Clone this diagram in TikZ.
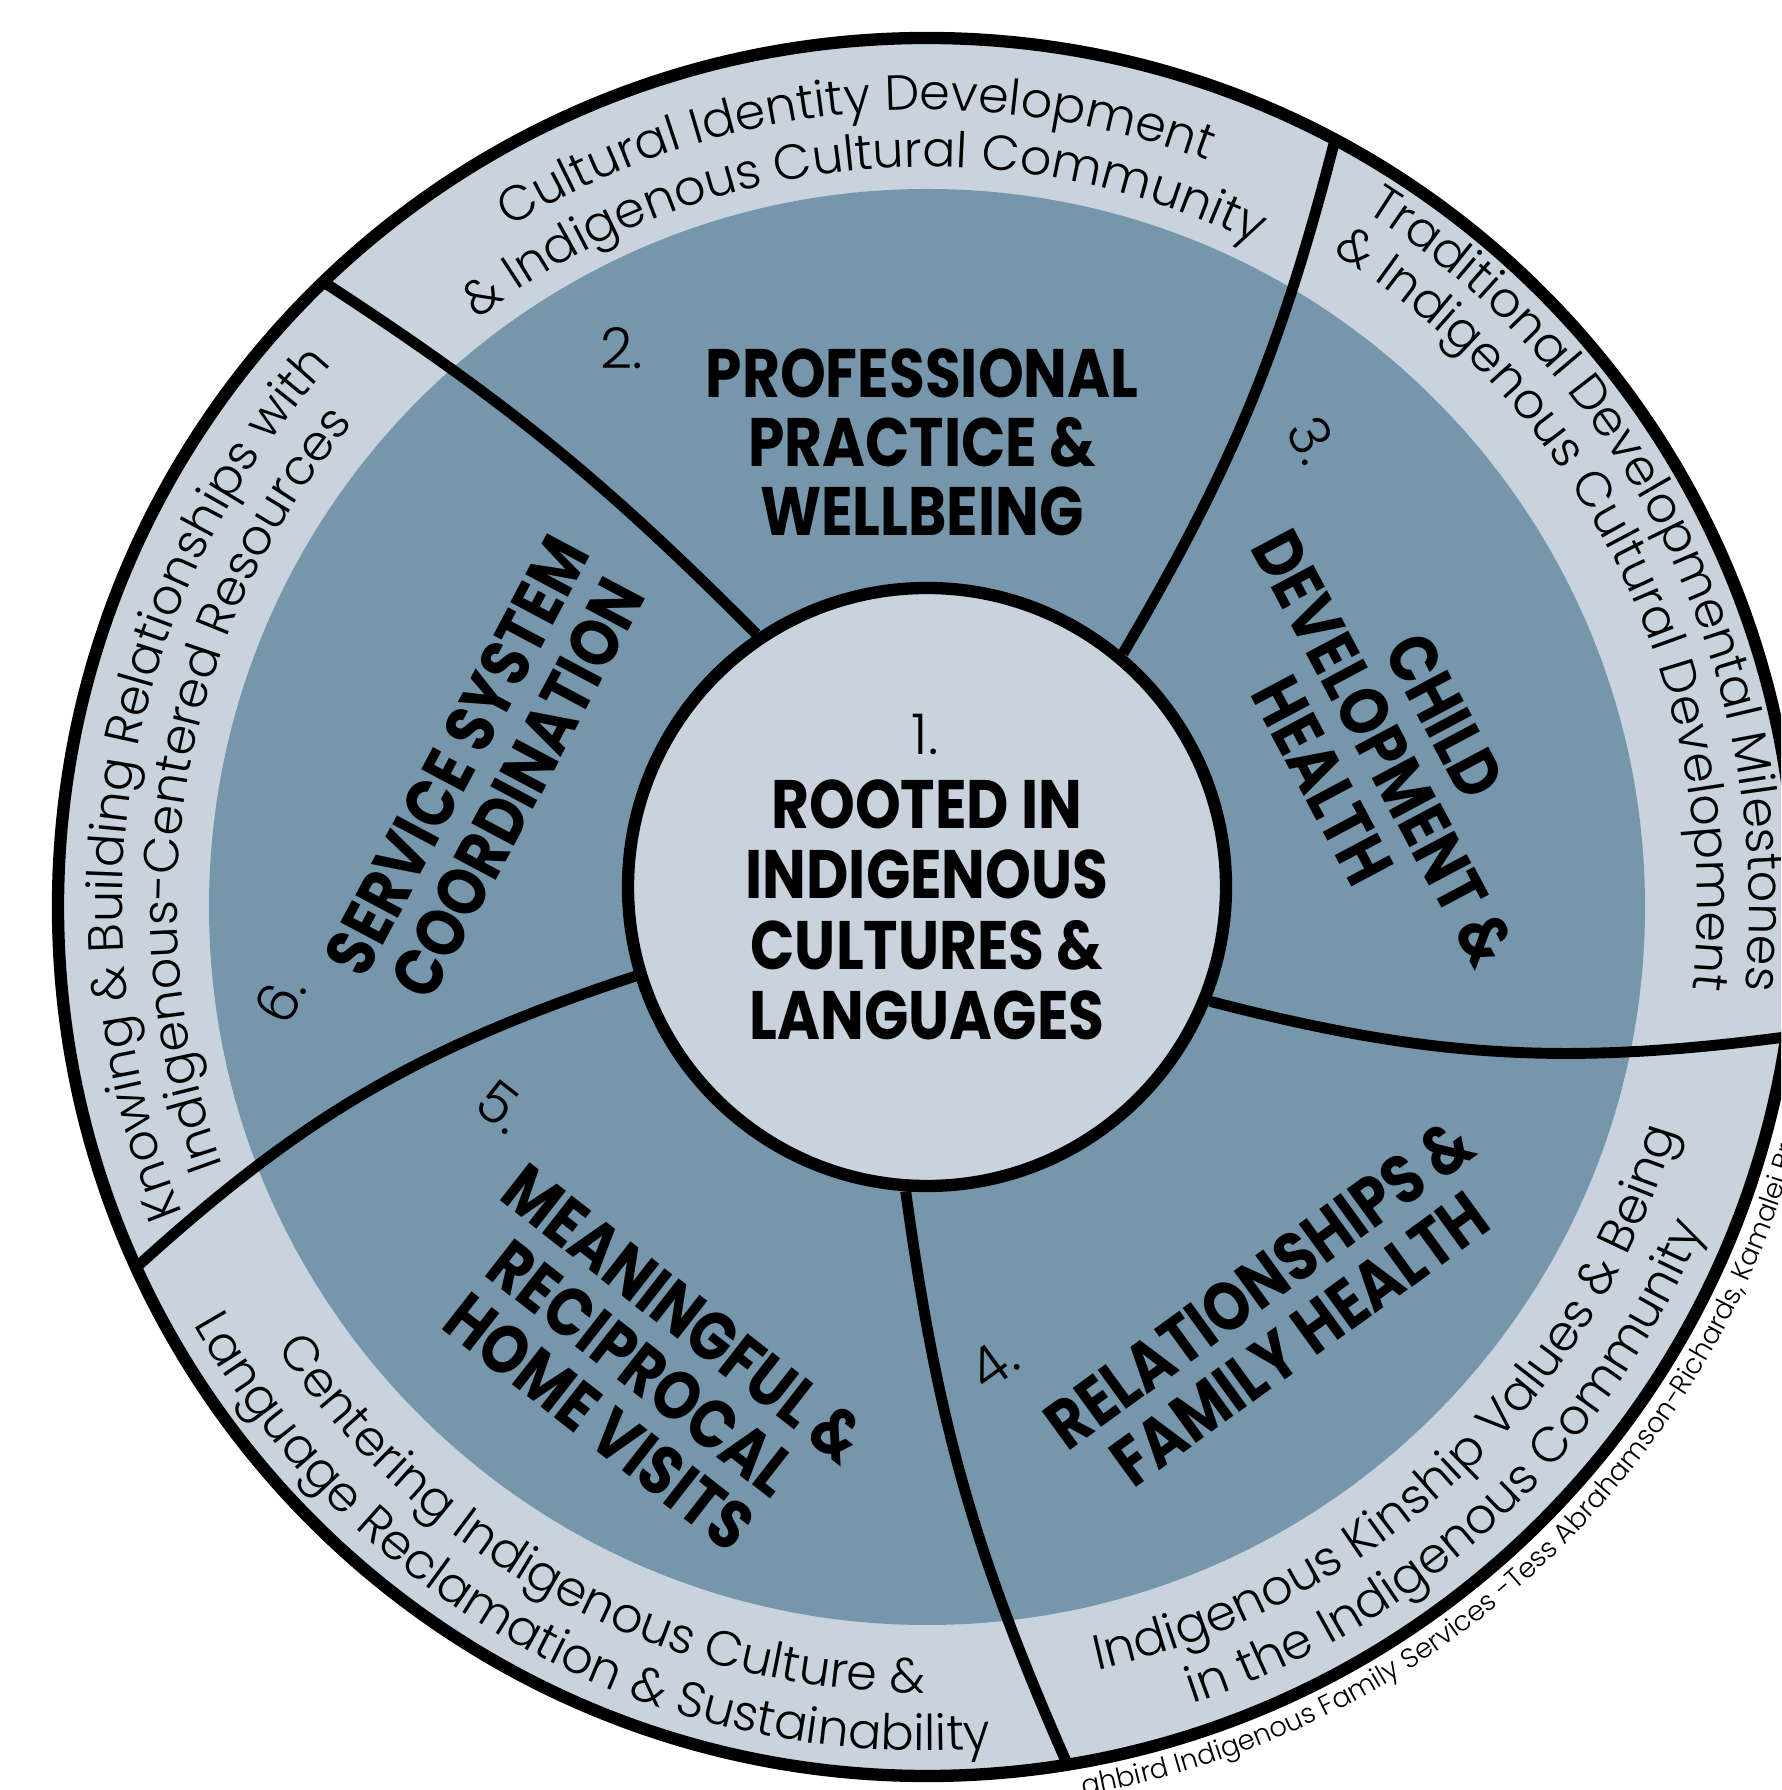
\documentclass[tikz,border=0pt]{standalone}
\usepackage{fontspec}
\usetikzlibrary{decorations.text}

\newfontfamily\titulo[FakeStretch=0.85]{Poppins Bold}
\newfontfamily\fina{Poppins Light}
\definecolor{claro}{RGB}{200,211,221}
\definecolor{oscuro}{RGB}{118,150,172}
\newcommand{\letraanillo}{\fina\fontsize{14}{14}\selectfont}

\begin{document}
\begin{tikzpicture}[
	eje/.style={line width=3.1pt},
	borde/.style={line width=3.5pt},
	rotulo/.style={font=\titulo\fontsize{19.5}{19.6}\selectfont, align=center, inner sep=0pt},
	numero/.style={font=\fina\fontsize{16}{16}\selectfont, inner sep=0pt},
	anillo/.style={decorate, decoration={text along path, text align=center, text={|\letraanillo|#1}}}
]
	\clip (0,0) rectangle (17.81,17.90);
	\fill[white] (0,0) rectangle (17.81,17.90);

	\begin{scope}[shift={(9.27,8.83)}]
		% Anillo claro y disco oscuro
		\fill[claro] (0,0) circle (8.69);
		\fill[oscuro] (0,0) circle (7.18);

		% Circulo central
		\node[circle, draw, borde, fill=claro, minimum size=5.98cm, inner sep=0pt] (centro) at (0,0.20) {};

		% Puntos sobre el borde exterior
		\coordinate (b1) at (134:8.69);
		\coordinate (b2) at (62:8.69);
		\coordinate (b3) at (-8.6:8.69);
		\coordinate (b4) at (-80.7:8.69);
		\coordinate (b5) at (204.5:8.69);

		% Divisiones entre sectores
		\draw[eje] (centro.124) to[bend right=6] (b1);
		\draw[eje] (centro.50) to[bend right=8] (b2);
		\draw[eje] (centro.-22) to[bend right=11] (b3);
		\draw[eje] (centro.-94) to[bend right=8] (b4);
		\draw[eje] (centro.197) to[bend right=12] (b5);

		% Borde exterior
		\draw[borde] (0,0) circle (8.69);

		% Texto del centro
		\node[numero] (n1) at (-0.02,1.73) {1.};
		\node[rotulo, font=\titulo\fontsize{19.5}{20}\selectfont] (raiz) at (0,-0.03) {ROOTED IN\\INDIGENOUS\\CULTURES \&\\LANGUAGES};

		% Sectores oscuros
		\node[numero] (n2) at (-3.05,5.59) {2.};
		\node[rotulo] (s2) at (-0.05,4.65) {PROFESSIONAL\\PRACTICE \&\\WELLBEING};

		\node[numero, rotate=-62] (n3) at (3.86,4.67) {3.};
		\node[rotulo, rotate=-62] (s3) at (4.57,1.59) {CHILD\\DEVELOPMENT \&\\HEALTH};

		\node[numero, rotate=36] (n4) at (0.66,-4.57) {4.};
		\node[rotulo, rotate=36] (s4) at (3.52,-4.04) {RELATIONSHIPS \&\\FAMILY HEALTH};

		\node[numero, rotate=-38] (n5) at (-4.25,-2.00) {5.};
		\node[rotulo, rotate=-38] (s5) at (-2.85,-4.61) {MEANINGFUL \&\\RECIPROCAL\\HOME VISITS};

		\node[numero, rotate=62] (n6) at (-6.47,-0.92) {6.};
		\node[rotulo, rotate=62] (s6) at (-4.40,1.35) {SERVICE SYSTEM\\COORDINATION};

		% Textos curvos del anillo claro
		\path[anillo={Cultural Identity Development}] (150:7.97) arc[start angle=150, end angle=41, radius=7.97];
		\path[anillo={{\&} Indigenous Cultural Community}] (150:7.40) arc[start angle=150, end angle=41, radius=7.40];

		\path[anillo={Traditional Developmental Milestones}] (80:8.22) arc[start angle=80, end angle=-28, radius=8.22];
		\path[anillo={{\&} Indigenous Cultural Development}] (80:7.70) arc[start angle=80, end angle=-28, radius=7.70];

		\path[anillo={Indigenous Kinship Values {\&} Being}] (-100:7.82) arc[start angle=-100, end angle=6, radius=7.82];
		\path[anillo={in the Indigenous Community}] (-100:8.40) arc[start angle=-100, end angle=6, radius=8.40];

		\path[anillo={Centering Indigenous Culture {\&}}] (-172:7.86) arc[start angle=-172, end angle=-64, radius=7.86];
		\path[anillo={Language Reclamation {\&} Sustainability}] (-172:8.44) arc[start angle=-172, end angle=-64, radius=8.44];

		\path[anillo={Knowing {\&} Building Relationships with}] (224:8.05) arc[start angle=224, end angle=116, radius=8.05];
		\path[anillo={Indigenous-Centered Resources}] (224:7.50) arc[start angle=224, end angle=116, radius=7.50];

		% Credito junto al borde
		\path[decorate, decoration={text along path, text align=left,
			text={|\fina\fontsize{7.8}{7.8}\selectfont|ghbird Indigenous Family Services -Tess Abrahamson-Richards, Kamalei Bra}}]
			(-80:9.02) arc[start angle=-80, end angle=0, radius=9.02];
	\end{scope}
\end{tikzpicture}
\end{document}
